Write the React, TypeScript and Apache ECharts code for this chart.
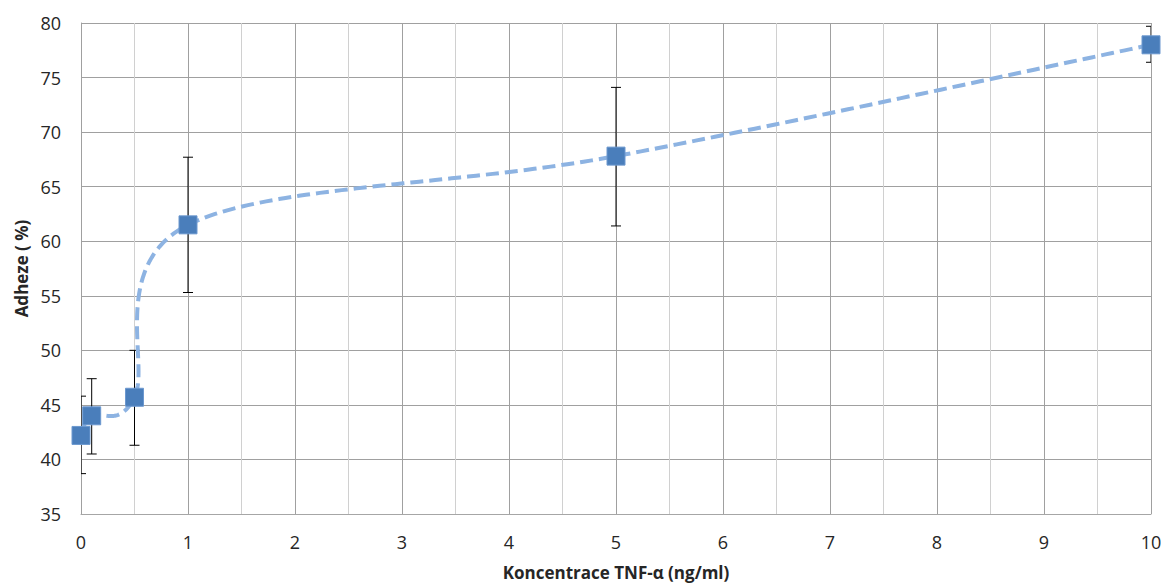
import React, { useEffect, useRef } from "react";
import * as echarts from "echarts";

const concentrations = [0, 0.1, 0.5, 1, 5, 10];
const adhesion = [42.2, 44.0, 45.7, 61.5, 67.8, 78.0];
const errLow = [38.7, 40.5, 41.3, 55.3, 61.4, 76.4];
const errHigh = [45.8, 47.4, 50.0, 67.7, 74.1, 79.7];

const xTitle = "Koncentrace TNF-α (ng/ml)";
const yTitle = "Adheze ( %)";

export default function App() {
  const ref = useRef<HTMLDivElement>(null);
  useEffect(() => {
    if (!ref.current) return;
    const chart = echarts.init(ref.current, undefined, { renderer: "svg" });
    const font = "'Open Sans', 'Liberation Sans', sans-serif";
    const points = concentrations.map((x, i) => [x, adhesion[i]]);
    const errData = concentrations.map((x, i) => [x, errLow[i], errHigh[i]]);
    chart.setOption({
      animation: false,
      backgroundColor: "#ffffff",
      grid: { left: 81, right: 15, top: 23, bottom: 73, containLabel: false, outerBoundsMode: "none" },
      xAxis: {
        type: "value",
        min: 0,
        max: 10,
        interval: 0.5,
        name: xTitle,
        nameLocation: "middle",
        nameGap: 50,
        nameTextStyle: { fontFamily: font, fontSize: 17, fontWeight: "bold", color: "#262626" },
        axisLine: { show: true, lineStyle: { color: "#a6a6a6", width: 1 } },
        axisTick: { show: false },
        axisLabel: {
          fontFamily: font,
          fontSize: 18,
          color: "#262626",
          margin: 19,
          formatter: (v: number) => (Number.isInteger(v) ? String(v) : ""),
        },
        splitLine: { show: true, lineStyle: { color: ["#a0a0a0", "#d0d0d0"], width: 1 } },
      },
      yAxis: {
        type: "value",
        min: 35,
        max: 80,
        interval: 5,
        name: yTitle,
        nameLocation: "middle",
        nameGap: 51,
        nameTextStyle: { fontFamily: font, fontSize: 17, fontWeight: "bold", color: "#262626" },
        axisLine: { show: true, lineStyle: { color: "#a0a0a0", width: 1 } },
        axisTick: { show: false },
        axisLabel: { fontFamily: font, fontSize: 18, color: "#262626", margin: 20 },
        splitLine: { show: true, lineStyle: { color: "#a0a0a0", width: 1 } },
      },
      series: [
        {
          type: "custom",
          data: errData,
          z: 2,
          clip: true,
          renderItem: (params: any, api: any) => {
            const x = api.value(0);
            const lo = api.coord([x, api.value(1)]);
            const hi = api.coord([x, api.value(2)]);
            const cap = 5;
            const style = { stroke: "#000000", lineWidth: 1 };
            return {
              type: "group",
              children: [
                { type: "line", shape: { x1: lo[0], y1: lo[1], x2: hi[0], y2: hi[1] }, style },
                { type: "line", shape: { x1: lo[0] - cap, y1: lo[1], x2: lo[0] + cap, y2: lo[1] }, style },
                { type: "line", shape: { x1: hi[0] - cap, y1: hi[1], x2: hi[0] + cap, y2: hi[1] }, style },
              ],
            };
          },
        },
        {
          // Excel-style smoothed line (Bezier, tension 1/6) through the data points
          type: "custom",
          data: points,
          z: 3,
          clip: true,
          renderItem: (params: any, api: any) => {
            if (params.dataIndex !== 0) return null;
            const P = points.map((p) => api.coord(p));
            const n = P.length;
            const pts: number[][] = [];
            for (let i = 0; i < n - 1; i++) {
              const p0 = P[Math.max(i - 1, 0)];
              const p1 = P[i];
              const p2 = P[i + 1];
              const p3 = P[Math.min(i + 2, n - 1)];
              const c1 = [p1[0] + (p2[0] - p0[0]) / 6, p1[1] + (p2[1] - p0[1]) / 6];
              const c2 = [p2[0] - (p3[0] - p1[0]) / 6, p2[1] - (p3[1] - p1[1]) / 6];
              const steps = 60;
              for (let s = i === 0 ? 0 : 1; s <= steps; s++) {
                const t = s / steps;
                const u = 1 - t;
                const a = u * u * u, b = 3 * u * u * t, c = 3 * u * t * t, d = t * t * t;
                pts.push([
                  a * p1[0] + b * c1[0] + c * c2[0] + d * p2[0],
                  a * p1[1] + b * c1[1] + c * c2[1] + d * p2[1],
                ]);
              }
            }
            return {
              type: "polyline",
              shape: { points: pts },
              style: { stroke: "#8db3e2", lineWidth: 4, fill: null, lineDash: [13, 6], lineCap: "butt" },
            };
          },
        },
        {
          type: "scatter",
          data: points,
          z: 4,
          symbol: "rect",
          symbolSize: 18,
          itemStyle: { color: "#4a7ebb", borderColor: "#6c98cf", borderWidth: 1, opacity: 1 },
        },
      ],
    });
    return () => chart.dispose();
  }, []);
  return <div ref={ref} style={{ position: "fixed", left: 0, top: 0, width: 1166, height: 587 }} />;
}
